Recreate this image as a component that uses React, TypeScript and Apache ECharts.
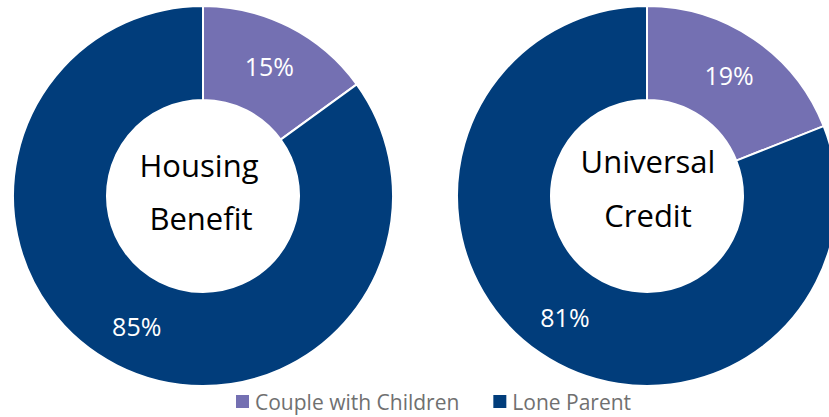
import React, { useEffect, useRef } from "react";
import * as echarts from "echarts";

const categories = ["Couple with Children", "Lone Parent"];
const housingBenefit = [15, 85];
const universalCredit = [19, 81];
const chartTitles = [["Housing", "Benefit"], ["Universal", "Credit"]];
const colors = ["#7470B2", "#013D7B"];
const FONT = "'Open Sans', sans-serif";

export default function App() {
  const ref = useRef<HTMLDivElement>(null);
  useEffect(() => {
    const chart = echarts.init(ref.current!, null, { renderer: "svg" });
    const mkSeries = (vals: number[], cx: number) => ({
      type: "pie",
      center: [cx, 196],
      radius: [96, 190],
      startAngle: 90,
      clockwise: true,
      avoidLabelOverlap: false,
      itemStyle: { borderColor: "#ffffff", borderWidth: 2 },
      label: {
        show: true,
        position: "inside",
        formatter: "{c}%",
        color: "#ffffff",
        fontFamily: FONT,
        fontSize: 25,
      },
      labelLine: { show: false },
      emphasis: { disabled: true },
      data: categories.map((n, i) => ({ name: n, value: vals[i], itemStyle: { color: colors[i] } })),
    });
    const centerText = (txt: string, x: number, y: number) => ({
      type: "text",
      x,
      y,
      style: {
        text: txt,
        fill: "#000000",
        font: `31px ${FONT}`,
        align: "center",
        verticalAlign: "middle",
      },
    });
    chart.setOption({
      animation: false,
      color: colors,
      legend: {
        data: categories,
        bottom: 0,
        left: 229,
        icon: "rect",
        itemWidth: 15,
        itemHeight: 15,
        itemGap: 32,
        textStyle: { color: "#707070", fontFamily: FONT, fontSize: 21 },
      },
      series: [mkSeries(housingBenefit, 203), mkSeries(universalCredit, 647)],
      graphic: [
        centerText(chartTitles[0][0], 199, 165),
        centerText(chartTitles[0][1], 201, 218),
        centerText(chartTitles[1][0], 648, 161),
        centerText(chartTitles[1][1], 648, 215),
      ],
    });
    return () => chart.dispose();
  }, []);
  return (
    <div
      ref={ref}
      style={{ position: "fixed", left: 0, top: 0, width: 829, height: 417, background: "#ffffff" }}
    />
  );
}
